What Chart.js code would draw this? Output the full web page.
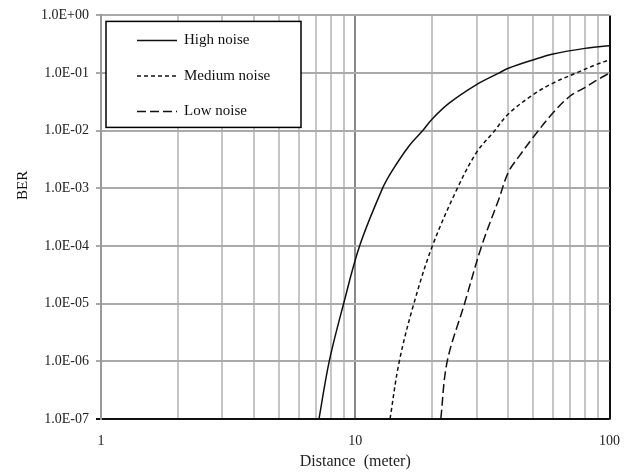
<!DOCTYPE html>
<html>
<head>
<meta charset="utf-8">
<script src="https://cdn.jsdelivr.net/npm/chart.js@4.4.1/dist/chart.umd.min.js"></script>
<style>
    html, body { margin: 0; padding: 0; background: #fff; }
    #chart-box { width: 634px; height: 474px; }
</style>
</head>
<body>
<div id="chart-box"><canvas id="ber-canvas"></canvas></div>
<script>
// values
const seriesNames = ["High noise", "Medium noise", "Low noise"];

const highDistance = [7.2, 7.9, 9.0, 10.4, 12.8, 14.0, 16.3, 18.4, 20, 23.4, 30, 36.7, 40, 50, 60, 80, 100];
const highBer = [1e-7, 1e-6, 1e-5, 1e-4, 1e-3, 2.05e-3, 5.5e-3, 1e-2, 0.0157, 0.030, 0.063, 0.1, 0.121, 0.169, 0.214, 0.268, 0.298];

const mediumDistance = [13.7, 14.9, 17.0, 20.1, 25.2, 30, 35, 40, 50, 60, 75, 90, 100];
const mediumBer = [1e-7, 1e-6, 1e-5, 1e-4, 1e-3, 4.2e-3, 9.5e-3, 0.0195, 0.042, 0.067, 0.103, 0.144, 0.169];

const lowDistance = [21.7, 23.0, 26.9, 31.4, 36.7, 40, 44.3, 50, 60, 70, 80, 90, 100];
const lowBer = [1e-7, 1e-6, 1e-5, 1e-4, 6.5e-4, 1.9e-3, 3.7e-3, 7.6e-3, 0.0205, 0.040, 0.056, 0.077, 0.1];

const xGridValues = [1, 2, 3, 4, 5, 6, 7, 8, 9, 10, 20, 30, 40, 50, 60, 70, 80, 90, 100];
const xLabelValues = [1, 10, 100];
const yDecades = [1e-7, 1e-6, 1e-5, 1e-4, 1e-3, 1e-2, 1e-1, 1];
const yTickLabels = ["1.0E-07", "1.0E-06", "1.0E-05", "1.0E-04", "1.0E-03", "1.0E-02", "1.0E-01", "1.0E+00"];

const serif = "'Liberation Serif', 'DejaVu Serif', serif";

function toPoints(xs, ys) {
    return xs.map((x, i) => ({ x: x, y: ys[i] }));
}

function lineSet(label, xs, ys, dash) {
    return {
        label: label,
        data: toPoints(xs, ys),
        borderColor: "#111",
        borderWidth: 1.5,
        borderDash: dash,
        pointRadius: 0,
        tension: 0.35,
        fill: false
    };
}

// legend box and the rotated y title, drawn by hand like the original
const overlay = {
    id: "overlay",
    afterDatasetsDraw(chart) {
        const { ctx, chartArea } = chart;
        const left = chartArea.left + 5;
        const top = chartArea.top + 6;
        ctx.save();
        ctx.fillStyle = "#fff";
        ctx.fillRect(left, top, 195, 106);
        ctx.strokeStyle = "#000";
        ctx.lineWidth = 1.5;
        ctx.strokeRect(left, top, 195, 106);

        ctx.font = "15px " + serif;
        ctx.textBaseline = "middle";
        ctx.textAlign = "left";
        chart.data.datasets.forEach((ds, i) => {
            const y = top + 19 + i * 35.5;
            ctx.strokeStyle = "#111";
            ctx.lineWidth = 1.5;
            ctx.setLineDash(ds.borderDash);
            ctx.beginPath();
            ctx.moveTo(left + 31, y);
            ctx.lineTo(left + 71, y);
            ctx.stroke();
            ctx.setLineDash([]);
            ctx.fillStyle = "#111";
            ctx.fillText(ds.label, left + 78, y);
        });

        ctx.translate(23, chartArea.top + 170);
        ctx.rotate(-Math.PI / 2);
        ctx.textAlign = "center";
        ctx.font = "15px " + serif;
        ctx.fillText("BER", 0, 0);
        ctx.restore();
    }
};

const berChart = new Chart(document.getElementById("ber-canvas"), {
    type: "line",
    data: {
        datasets: [
            lineSet(seriesNames[0], highDistance, highBer, []),
            lineSet(seriesNames[1], mediumDistance, mediumBer, [4, 3]),
            lineSet(seriesNames[2], lowDistance, lowBer, [9, 4])
        ]
    },
    options: {
        responsive: true,
        maintainAspectRatio: false,
        animation: false,
        layout: { padding: { top: 12, right: 23, left: 0, bottom: 0 } },
        plugins: {
            legend: { display: false },
            tooltip: { enabled: false }
        },
        scales: {
            x: {
                type: "logarithmic",
                min: 1,
                max: 100,
                afterBuildTicks: (scale) => {
                    scale.ticks = xGridValues.map(v => ({ value: v }));
                },
                afterFit: (scale) => { scale.height = 55; },
                ticks: {
                    autoSkip: false,
                    maxRotation: 0,
                    padding: 14,
                    color: "#222",
                    font: { family: serif, size: 14 },
                    callback: (value) => xLabelValues.includes(value) ? String(value) : ""
                },
                grid: {
                    drawTicks: false,
                    lineWidth: 2,
                    color: (c) => {
                        const v = c.tick ? c.tick.value : 0;
                        if (v === 100) return "#111";
                        if (v === 10) return "#888";
                        if (v === 1) return "#999";
                        return "#c6c6c6";
                    }
                },
                border: { color: "#111", width: 1.5 },
                title: {
                    display: true,
                    text: "Distance  (meter)",
                    color: "#222",
                    font: { family: serif, size: 16 },
                    padding: { top: 0, bottom: 3 }
                }
            },
            y: {
                type: "logarithmic",
                min: 1e-7,
                max: 1,
                afterBuildTicks: (scale) => {
                    scale.ticks = yDecades.map(v => ({ value: v }));
                },
                afterFit: (scale) => { scale.width = 101; },
                ticks: {
                    autoSkip: false,
                    padding: 7,
                    color: "#222",
                    font: { family: serif, size: 14 },
                    callback: (value) => {
                        const i = yDecades.findIndex(d => Math.abs(Math.log10(d) - Math.log10(value)) < 1e-6);
                        return i >= 0 ? yTickLabels[i] : "";
                    }
                },
                grid: {
                    tickLength: 5,
                    lineWidth: 2,
                    color: (c) => (c.tick && c.tick.value <= 1e-7) ? "#111" : "#aaa"
                },
                border: { color: "#999", width: 2 }
            }
        }
    },
    plugins: [overlay]
});
</script>
</body>
</html>
